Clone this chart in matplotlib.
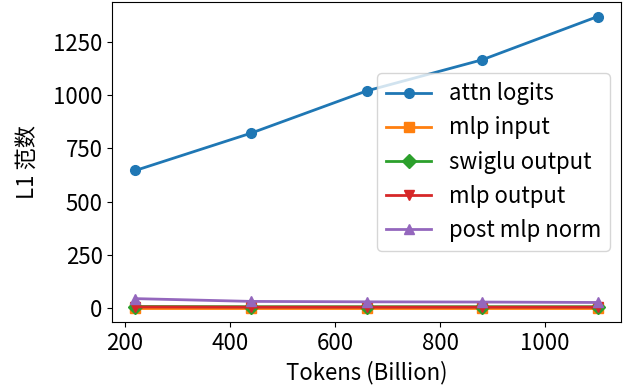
import matplotlib
matplotlib.use("Agg")
import matplotlib.pyplot as plt

plt.rcParams['font.family'] = ['Noto Sans CJK SC', 'DejaVu Sans']
plt.rcParams['font.size'] = 16

# tokens seen (billion)
tokens = [220, 440, 660, 880, 1100]

# L1 norms per activation
attn_logits = [646, 821, 1019, 1165, 1368]
mlp_input = [3, 3, 3, 3, 3]
swiglu_output = [8, 7, 7, 7, 7]
mlp_output = [6, 5, 5, 5, 5]
post_mlp_norm = [45, 32, 30, 29, 27]

series = [
    (attn_logits, 'attn logits', 'o'),
    (mlp_input, 'mlp input', 's'),
    (swiglu_output, 'swiglu output', 'D'),
    (mlp_output, 'mlp output', 'v'),
    (post_mlp_norm, 'post mlp norm', '^'),
]

fig, ax = plt.subplots(figsize=(6.24, 3.9), dpi=100)
for vals, name, mk in series:
    ax.plot(tokens, vals, marker=mk, label=name, linewidth=2, markersize=7)

ax.set_xlabel('Tokens (Billion)')
ax.set_ylabel('L1 范数', labelpad=10)
ax.legend(loc='center right')

fig.subplots_adjust(left=0.18, right=0.995, top=0.995, bottom=0.174)
fig.savefig('out.png')
